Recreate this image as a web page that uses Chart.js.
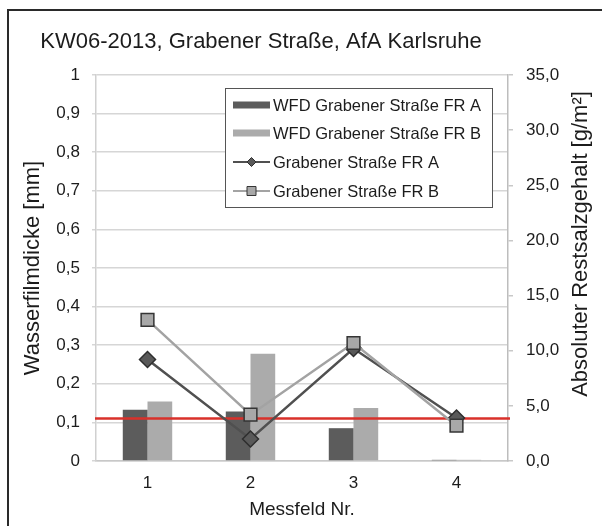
<!DOCTYPE html>
<html>
<head>
<meta charset="utf-8">
<script src="https://cdn.jsdelivr.net/npm/chart.js@4.4.1/dist/chart.umd.min.js"></script>
<style>
  html, body { margin: 0; padding: 0; background: #fff; }
  #wrap { position: relative; width: 602px; height: 526px; overflow: hidden; }
  #frame { position: absolute; left: 7px; top: 9px; width: 700px; height: 700px;
           border-left: 2px solid #2a2a2a; border-top: 2px solid #2a2a2a; }
  canvas { position: absolute; left: 0; top: 0; }
</style>
</head>
<body>
<div id="wrap">
  <div id="frame"></div>
  <canvas id="chart" width="602" height="526"></canvas>
</div>
<script>
// Daten
const categories = ['1', '2', '3', '4'];
const wfdA = [0.133, 0.128, 0.085, 0.003];   // Wasserfilmdicke FR A [mm]
const wfdB = [0.154, 0.278, 0.137, 0.003];   // Wasserfilmdicke FR B [mm]
const saltA = [9.2, 2.0, 10.2, 3.9];          // Restsalzgehalt FR A [g/m²]
const saltB = [12.8, 4.2, 10.7, 3.2];         // Restsalzgehalt FR B [g/m²]
const threshold = 0.11;                        // rote Linie (linke Achse)

const FONT = "'Liberation Sans', Arial, sans-serif";
const TEXT = '#1c1c1c';

function comma(v, d) {
    return v.toFixed(d).replace('.', ',');
}

// rote Grenzlinie: nach den Balken, vor den Linien
const redLine = {
    id: 'redLine',
    beforeDatasetDraw(chart, args) {
        if (args.index !== 2) return;
        const ctx = chart.ctx;
        const y = chart.scales.y.getPixelForValue(threshold);
        ctx.save();
        ctx.strokeStyle = '#d9302a';
        ctx.lineWidth = 2.5;
        ctx.beginPath();
        ctx.moveTo(chart.chartArea.left - 1, y);
        ctx.lineTo(chart.chartArea.right + 2, y);
        ctx.stroke();
        ctx.restore();
    }
};

// Titel, Legende im Kasten, rechter Achsentitel
const extras = {
    id: 'extras',
    afterDraw(chart) {
        const ctx = chart.ctx;
        ctx.save();
        // Titel
        ctx.font = '22px ' + FONT;
        ctx.fillStyle = TEXT;
        ctx.textAlign = 'center';
        ctx.textBaseline = 'alphabetic';
        ctx.fillText('KW06-2013, Grabener Straße, AfA Karlsruhe', 261, 48);

        // Legendenkasten
        const bx = 225, by = 88, bw = 267, bh = 119;
        ctx.fillStyle = '#fff';
        ctx.fillRect(bx, by, bw, bh);
        ctx.strokeStyle = '#555';
        ctx.lineWidth = 1;
        ctx.strokeRect(bx + 0.5, by + 0.5, bw, bh);
        const rows = [105, 133, 162, 191];
        const ds = chart.data.datasets;
        ctx.font = '16.5px ' + FONT;
        ctx.textBaseline = 'middle';
        rows.forEach((ry, i) => {
            const d = ds[i];
            if (d.type === 'bar') {
                ctx.fillStyle = d.backgroundColor;
                ctx.fillRect(233, ry - 3.5, 37, 7);
            } else {
                ctx.strokeStyle = d.borderColor;
                ctx.lineWidth = 2;
                ctx.beginPath();
                ctx.moveTo(233, ry);
                ctx.lineTo(270, ry);
                ctx.stroke();
                ctx.fillStyle = d.pointBackgroundColor;
                ctx.strokeStyle = d.pointBorderColor;
                ctx.lineWidth = 1;
                ctx.beginPath();
                if (d.pointStyle === 'rect') {
                    ctx.rect(247, ry - 4.5, 9, 9);
                } else {
                    ctx.moveTo(251.5, ry - 4.5);
                    ctx.lineTo(256, ry);
                    ctx.lineTo(251.5, ry + 4.5);
                    ctx.lineTo(247, ry);
                    ctx.closePath();
                }
                ctx.fill();
                ctx.stroke();
            }
            ctx.fillStyle = TEXT;
            ctx.textAlign = 'left';
            ctx.fillText(d.label, 273, ry + 1);
        });

        // rechter Achsentitel (von unten nach oben)
        ctx.translate(581, 244);
        ctx.rotate(-Math.PI / 2);
        ctx.font = '22px ' + FONT;
        ctx.textAlign = 'center';
        ctx.textBaseline = 'middle';
        ctx.fillStyle = TEXT;
        ctx.fillText('Absoluter Restsalzgehalt [g/m²]', 0, 0);
        ctx.restore();
    }
};

const ctx = document.getElementById('chart').getContext('2d');
new Chart(ctx, {
    data: {
        labels: categories,
        datasets: [
            {
                type: 'bar', label: 'WFD Grabener Straße FR A', data: wfdA,
                backgroundColor: '#5c5c5c', yAxisID: 'y', order: 2,
                categoryPercentage: 0.48, barPercentage: 1
            },
            {
                type: 'bar', label: 'WFD Grabener Straße FR B', data: wfdB,
                backgroundColor: '#ababab', yAxisID: 'y', order: 3,
                categoryPercentage: 0.48, barPercentage: 1
            },
            {
                type: 'line', label: 'Grabener Straße FR A', data: saltA,
                borderColor: '#505050', borderWidth: 2.5,
                pointStyle: 'rectRot', pointRadius: 8,
                pointBackgroundColor: '#595959', pointBorderColor: '#2e2e2e',
                pointBorderWidth: 1.5, yAxisID: 'y2', order: 1
            },
            {
                type: 'line', label: 'Grabener Straße FR B', data: saltB,
                borderColor: '#a3a3a3', borderWidth: 2.5,
                pointStyle: 'rect', pointRadius: 9,
                pointBackgroundColor: '#a8a8a8', pointBorderColor: '#353535',
                pointBorderWidth: 1.5, yAxisID: 'y2', order: 0
            }
        ]
    },
    options: {
        responsive: false,
        animation: false,
        layout: { padding: { top: 75, left: 0, right: 0, bottom: 0 } },
        plugins: {
            legend: { display: false },
            tooltip: { enabled: false }
        },
        scales: {
            x: {
                offset: true,
                grid: { display: false, drawTicks: false },
                border: { color: '#c8c8c8', width: 1.5 },
                ticks: { color: TEXT, font: { family: FONT, size: 17 }, padding: 12 },
                title: {
                    display: true, text: 'Messfeld Nr.', color: TEXT,
                    font: { family: FONT, size: 19 }, padding: { top: 0, bottom: 5 }
                },
                afterFit(s) { s.height = 65; }
            },
            y: {
                position: 'left',
                min: 0, max: 1,
                ticks: {
                    stepSize: 0.1, color: TEXT, padding: 12,
                    font: { family: FONT, size: 17 },
                    callback: v => (v === 0 || v === 1) ? String(v) : comma(v, 1)
                },
                grid: { color: '#d6d6d6', lineWidth: 1.5, tickLength: 4 },
                border: { color: '#d0d0d0', width: 1.5 },
                title: {
                    display: true, text: 'Wasserfilmdicke [mm]', color: TEXT,
                    font: { family: FONT, size: 22 }, padding: { top: 20, bottom: 0 }
                },
                afterFit(s) { s.width = 96; }
            },
            y2: {
                position: 'right',
                min: 0, max: 35,
                ticks: {
                    stepSize: 5, color: TEXT, padding: 13,
                    font: { family: FONT, size: 17 },
                    callback: v => comma(v, 1)
                },
                grid: { drawOnChartArea: false, color: '#c8c8c8', lineWidth: 1.5, tickLength: 5 },
                border: { color: '#bdbdbd', width: 1.5 },
                afterFit(s) { s.width = 94; }
            }
        }
    },
    plugins: [redLine, extras]
});
</script>
</body>
</html>
